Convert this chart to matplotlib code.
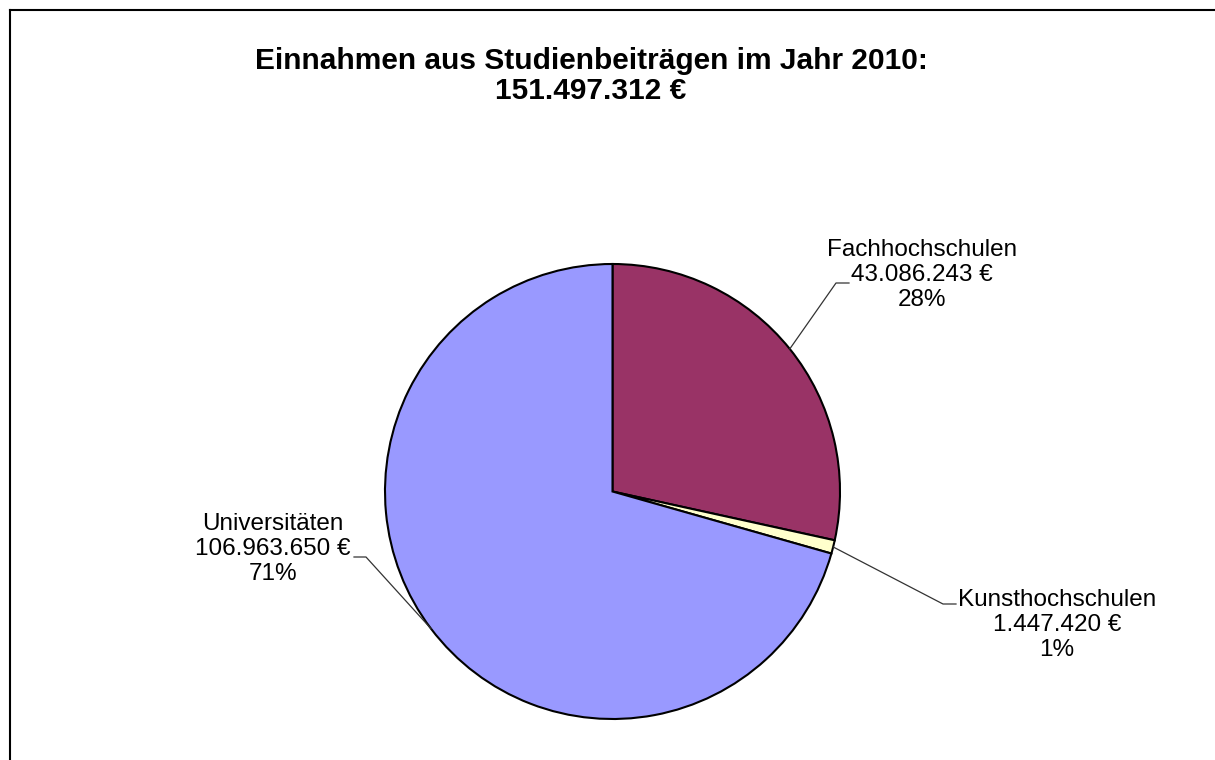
import matplotlib.pyplot as plt
import numpy as np

plt.rcParams['font.family'] = ['Liberation Sans', 'DejaVu Sans']

# data
names = ["Fachhochschulen", "Kunsthochschulen", "Universitäten"]
values = [43086243, 1447420, 106963650]
percents = ["28%", "1%", "71%"]
colors = ["#993366", "#FFFFCC", "#9999FF"]
title = "Einnahmen aus Studienbeiträgen im Jahr 2010:\n151.497.312 €"

def fmt(v):
    return f"{v:,}".replace(",", ".") + " €"

W, H = 1215, 760
cx, cy, r = 612.5, 491.5, 227.5

fig = plt.figure(figsize=(W / 100, H / 100), dpi=100)
ax = fig.add_axes([0, 0, 1, 1])

def px(x, y):
    return (x - cx) / r, (cy - y) / r

wedges, _ = ax.pie(values, colors=colors, startangle=90, counterclock=False,
                   radius=1, wedgeprops=dict(edgecolor="black", linewidth=1.5))
ax.set_aspect("auto")
ax.set_xlim(-cx / r, (W - cx) / r)
ax.set_ylim(-(H - cy) / r, cy / r)
ax.axis("off")

# label layout: (elbow x, elbow y, horizontal end x, text center x, first line y)
layout = [
    (836, 283, 849, 922, 248),
    (943, 604, 956, 1057, 598),
    (366, 557, 354, 273, 522),
]
for w, name, v, p, (ex, ey, hx, tx, ty) in zip(wedges, names, values, percents, layout):
    ang = np.deg2rad((w.theta1 + w.theta2) / 2)
    sx, sy = np.cos(ang), np.sin(ang)
    e = px(ex, ey)
    h = px(hx, ey)
    ax.plot([sx, e[0], h[0]], [sy, e[1], h[1]], color="#333333", lw=0.9)
    t = px(tx, ty + 27)
    ax.text(t[0], t[1], f"{name}\n{fmt(v)}\n{p}", ha="center", va="center",
            fontsize=17.5, color="black", linespacing=1.15)

ax.text(*px(591, 76), title, ha="center", va="center", fontsize=21.5,
        fontweight="bold", linespacing=1.05)

# frame (left and top visible)
fig.add_artist(plt.Line2D([9.5 / W, 9.5 / W], [0, 1 - 10 / H], color="black", lw=1.5))
fig.add_artist(plt.Line2D([9.5 / W, 1], [1 - 10 / H, 1 - 10 / H], color="black", lw=1.5))

fig.savefig("out.png", dpi=100)
